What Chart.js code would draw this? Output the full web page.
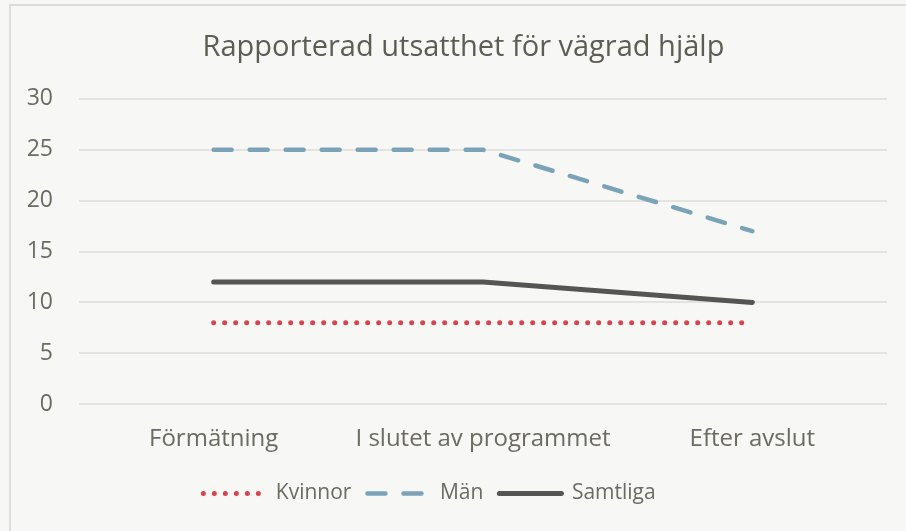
<!DOCTYPE html>
<html>
<head>
<meta charset="utf-8">
<script src="https://cdn.jsdelivr.net/npm/chart.js@4.4.0/dist/chart.umd.min.js"></script>
<style>
  html, body { margin: 0; padding: 0; background: #f7f7f5; }
  body { width: 906px; height: 531px; position: relative; overflow: hidden; }
  #frame { position: absolute; left: 9px; top: 4px; width: 920px; height: 560px;
           border-left: 2px solid #deded9; border-top: 2px solid #deded9; }
  #wrap { position: absolute; left: 0; top: 0; width: 906px; height: 531px; }
</style>
</head>
<body>
<div id="frame"></div>
<div id="wrap"><canvas id="chart" width="906" height="531"></canvas></div>
<script>
// Data
const categories = ['Förmätning', 'I slutet av programmet', 'Efter avslut'];
const kvinnor = [8, 8, 8];
const man = [25, 25, 17];
const samtliga = [12, 12, 10];
const yTicks = [0, 5, 10, 15, 20, 25, 30];

const textColor = '#6b6b61';
const font = 'Open Sans, Noto Sans, sans-serif';

// title sits right of canvas centre and legend left of it in the original
const nudgeBlocks = {
  id: 'nudgeBlocks',
  afterLayout(chart) {
    chart.titleBlock.left += 20;
    chart.titleBlock.right += 20;
    chart.legend.left -= 14;
    chart.legend.right -= 14;
  }
};

new Chart(document.getElementById('chart'), {
  type: 'line',
  data: {
    labels: categories,
    datasets: [
      {
        label: 'Kvinnor',
        data: kvinnor,
        borderColor: '#d9444c',
        backgroundColor: '#d9444c',
        borderWidth: 5,
        borderDash: [0, 11],
        borderCapStyle: 'round',
        pointRadius: 0,
        tension: 0
      },
      {
        label: 'Män',
        data: man,
        borderColor: '#7ba3b7',
        backgroundColor: '#7ba3b7',
        borderWidth: 4.5,
        borderDash: [18, 18],
        borderCapStyle: 'round',
        pointRadius: 0,
        tension: 0
      },
      {
        label: 'Samtliga',
        data: samtliga,
        borderColor: '#555651',
        backgroundColor: '#555651',
        borderWidth: 5,
        borderCapStyle: 'round',
        pointRadius: 0,
        tension: 0
      }
    ]
  },
  options: {
    responsive: false,
    animation: false,
    layout: { padding: { left: 0, right: 19, top: 30, bottom: 17 } },
    plugins: {
      title: {
        display: true,
        text: 'Rapporterad utsatthet för vägrad hjälp',
        color: '#5d5d54',
        font: { family: font, size: 29, weight: 'normal' },
        padding: { top: 0, bottom: 34 }
      },
      legend: {
        position: 'bottom',
        labels: {
          usePointStyle: true,
          pointStyleWidth: 62,
          boxHeight: 6,
          color: textColor,
          padding: 16,
          font: { family: font, size: 21 },
          generateLabels: (chart) => chart.data.datasets.map((ds, i) => ({
            text: ds.label,
            fillStyle: ds.borderColor,
            strokeStyle: ds.borderColor,
            lineWidth: ds.borderWidth,
            lineDash: ds.borderDash || [],
            lineCap: 'round',
            pointStyle: 'line',
            fontColor: textColor,
            hidden: false,
            datasetIndex: i
          }))
        }
      },
      tooltip: { enabled: false }
    },
    scales: {
      x: {
        offset: true,
        grid: { display: false },
        border: { display: false },
        ticks: { color: textColor, padding: 13, font: { family: font, size: 24 } }
      },
      y: {
        min: 0,
        max: 30,
        afterBuildTicks: (axis) => { axis.ticks = yTicks.map(v => ({ value: v })); },
        afterFit: (axis) => { axis.width = 79; },
        grid: { color: '#e3e3df', lineWidth: 2, drawTicks: false },
        border: { display: false },
        ticks: { color: textColor, padding: 26, font: { family: font, size: 23 } }
      }
    }
  },
  plugins: [nudgeBlocks]
});
</script>
</body>
</html>
